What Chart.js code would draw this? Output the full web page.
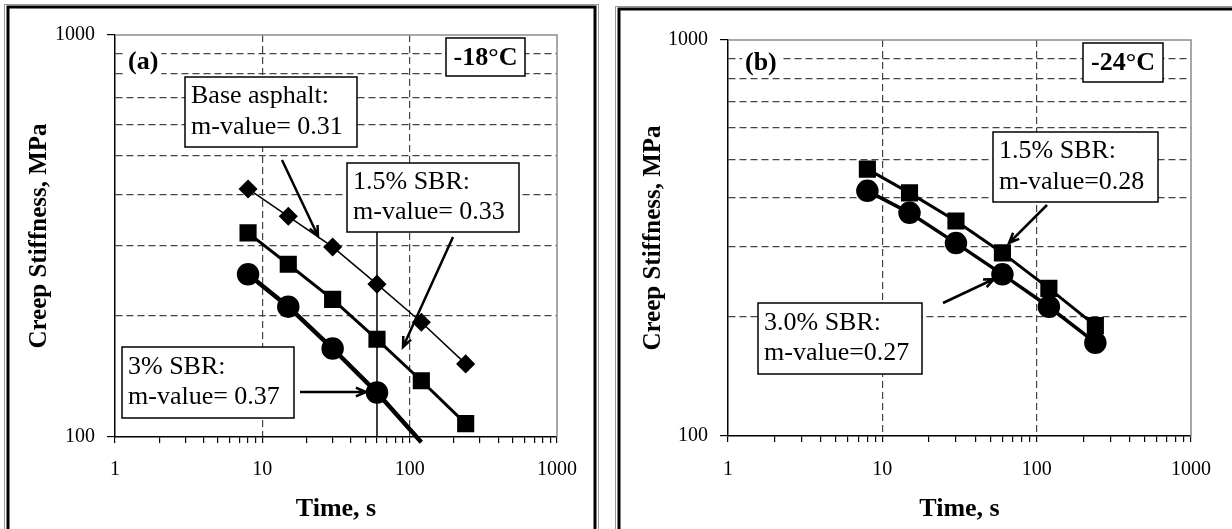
<!DOCTYPE html>
<html>
<head>
<meta charset="utf-8">
<title>Creep stiffness vs loading time</title>
<script src="https://cdn.jsdelivr.net/npm/chart.js@4.4.1/dist/chart.umd.min.js"></script>
<style>
  body { margin: 0; background: #fff; }
  #wrap { position: relative; width: 1232px; height: 529px; }
  .panel { position: absolute; top: 0; height: 529px; }
  #panelA { left: 0; width: 612px; }
  #panelB { left: 612px; width: 620px; }
</style>
</head>
<body>
<div id="wrap">
  <div class="panel" id="panelA"><canvas id="chartA"></canvas></div>
  <div class="panel" id="panelB"><canvas id="chartB"></canvas></div>
</div>
<script>
// loading times, s
const times = [8, 15, 30, 60, 120, 240];

// (a) -18°C, creep stiffness in MPa
const baseAsphaltA = [414, 354, 297, 240, 193, 152];
const sbr15A = [322, 269, 220, 175, 138, 108];
const sbr3A = [254, 211, 166, 129, 97]; // last point is just under the axis

// (b) -24°C
const sbr15B = [472, 411, 349, 290, 236, 190];
const sbr30B = [416, 366, 307, 256, 212, 172];

const xTickLabels = [1, 10, 100, 1000];
const yTickLabels = [100, 1000];

// tick marks: 1..9 in every decade
const xTicks = [];
[1, 10, 100].forEach(d => { for (let k = 1; k < 10; k++) xTicks.push(k * d); });
xTicks.push(1000);
const yTicks = [100, 200, 300, 400, 500, 600, 700, 800, 900, 1000];

const SERIF = "'Liberation Serif', 'Times New Roman', serif";
const H = 529;

function pts(values) {
    return values.map((v, i) => ({ x: times[i], y: v }));
}

function arrow(ctx, x1, y1, x2, y2) {
    const ang = Math.atan2(y2 - y1, x2 - x1);
    const head = 11;
    ctx.beginPath();
    ctx.moveTo(x1, y1);
    ctx.lineTo(x2, y2);
    ctx.moveTo(x2 - head * Math.cos(ang - 0.4), y2 - head * Math.sin(ang - 0.4));
    ctx.lineTo(x2, y2);
    ctx.lineTo(x2 - head * Math.cos(ang + 0.4), y2 - head * Math.sin(ang + 0.4));
    ctx.stroke();
}

// frame, text boxes and arrows drawn on top of the chart
function notesPlugin(notes) {
    return {
        id: 'notes',
        beforeDraw(chart) {
            const ctx = chart.ctx;
            const f = notes.frame;
            ctx.save();
            ctx.strokeStyle = '#999';
            ctx.lineWidth = 1;
            ctx.strokeRect(f.left - 3.5, f.top - 2.5, f.right - f.left + 7, 600);
            ctx.strokeStyle = '#000';
            ctx.lineWidth = 3;
            ctx.strokeRect(f.left, f.top, f.right - f.left, 600);
            ctx.restore();
        },
        afterDatasetsDraw(chart) {
            const { ctx, chartArea: a } = chart;
            ctx.save();

            // top and right edge of the plot area
            ctx.strokeStyle = '#8c8c8c';
            ctx.lineWidth = 1.5;
            ctx.beginPath();
            ctx.moveTo(a.left, a.top);
            ctx.lineTo(a.right, a.top);
            ctx.lineTo(a.right, a.bottom);
            ctx.stroke();

            ctx.strokeStyle = '#000';
            ctx.fillStyle = '#000';

            if (notes.guide) {
                const gx = chart.scales.x.getPixelForValue(notes.guide.time);
                ctx.lineWidth = 1.5;
                ctx.beginPath();
                ctx.moveTo(gx, notes.guide.top);
                ctx.lineTo(gx, a.bottom);
                ctx.stroke();
            }

            ctx.lineWidth = 2.5;
            notes.arrows.forEach(p => arrow(ctx, p[0], p[1], p[2], p[3]));

            ctx.textBaseline = 'middle';

            // panel tag, white behind it
            ctx.font = 'bold 26px ' + SERIF;
            const tw = ctx.measureText(notes.tag.text).width;
            ctx.fillStyle = '#fff';
            ctx.fillRect(notes.tag.x - 3, notes.tag.y - 14, tw + 6, 28);
            ctx.fillStyle = '#000';
            ctx.textAlign = 'left';
            ctx.fillText(notes.tag.text, notes.tag.x, notes.tag.y);

            // temperature box
            const t = notes.temp;
            ctx.fillStyle = '#fff';
            ctx.fillRect(t.x, t.y, t.w, t.h);
            ctx.lineWidth = 1.5;
            ctx.strokeRect(t.x, t.y, t.w, t.h);
            ctx.fillStyle = '#000';
            ctx.textAlign = 'center';
            ctx.fillText(t.text, t.x + t.w / 2, t.y + t.h / 2 + 1);

            // m-value boxes
            ctx.font = '26px ' + SERIF;
            ctx.textAlign = 'left';
            notes.boxes.forEach(b => {
                ctx.fillStyle = '#fff';
                ctx.fillRect(b.x, b.y, b.w, b.h);
                ctx.strokeRect(b.x, b.y, b.w, b.h);
                ctx.fillStyle = '#000';
                ctx.fillText(b.lines[0], b.x + 6, b.y + b.h * 0.28);
                ctx.fillText(b.lines[1], b.x + 6, b.y + b.h * 0.71);
            });

            ctx.restore();
        }
    };
}

function isDecade(v) {
    return Math.abs(Math.log10(v) - Math.round(Math.log10(v))) < 1e-6;
}

function makeChart(canvasId, datasets, area, notes) {
    const canvas = document.getElementById(canvasId);
    const W = canvas.parentNode.clientWidth;
    return new Chart(canvas, {
        type: 'line',
        data: { datasets: datasets },
        options: {
            responsive: true,
            maintainAspectRatio: false,
            animation: false,
            layout: { padding: { left: 0, top: area.top, right: W - area.right, bottom: 0 } },
            plugins: { legend: { display: false }, tooltip: { enabled: false } },
            elements: { line: { tension: 0, borderColor: '#000' } },
            scales: {
                x: {
                    type: 'logarithmic',
                    min: 1,
                    max: 1000,
                    afterBuildTicks: s => { s.ticks = xTicks.map(v => ({ value: v })); },
                    afterFit: s => { s.height = H - area.bottom; },
                    border: { color: '#000', width: 1.5, dash: [7, 4] },
                    grid: {
                        color: c => (c.tick && (c.tick.value === 10 || c.tick.value === 100)) ? '#444' : 'rgba(0,0,0,0)',
                        lineWidth: 1.2,
                        tickColor: '#000',
                        tickLength: 6,
                        tickWidth: 1.2
                    },
                    ticks: {
                        autoSkip: false,
                        maxRotation: 0,
                        padding: area.bottom === 437 ? 15 : 16,
                        color: '#000',
                        font: { family: SERIF, size: 20 },
                        callback: v => xTickLabels.includes(v) ? String(v) : ''
                    },
                    title: {
                        display: true,
                        text: 'Time, s',
                        color: '#000',
                        font: { family: SERIF, size: 26, weight: 'bold', lineHeight: 1 },
                        padding: { top: 0, bottom: 7 }
                    }
                },
                y: {
                    type: 'logarithmic',
                    min: 100,
                    max: 1000,
                    afterBuildTicks: s => { s.ticks = yTicks.map(v => ({ value: v })); },
                    afterFit: s => { s.width = area.left; },
                    border: { color: '#000', width: 1.5, dash: [7, 4] },
                    grid: {
                        color: c => (c.tick && !isDecade(c.tick.value)) ? '#444' : 'rgba(0,0,0,0)',
                        lineWidth: 1.2,
                        tickColor: c => (c.tick && isDecade(c.tick.value)) ? '#000' : 'rgba(0,0,0,0)',
                        tickLength: 8,
                        tickWidth: 1.2
                    },
                    ticks: {
                        autoSkip: false,
                        padding: 12,
                        color: '#000',
                        font: { family: SERIF, size: 20 },
                        callback: v => yTickLabels.includes(v) ? String(v) : ''
                    },
                    title: {
                        display: true,
                        text: 'Creep Stiffness, MPa',
                        color: '#000',
                        font: { family: SERIF, size: 25, weight: 'bold', lineHeight: 1 },
                        padding: { top: area.titleX - 12.5, bottom: 0 }
                    }
                }
            }
        },
        plugins: [notesPlugin(notes)]
    });
}

// (a) -18°C
makeChart('chartA', [
    {
        label: 'Base asphalt',
        data: pts(baseAsphaltA),
        borderColor: '#000',
        borderWidth: 1.5,
        pointStyle: 'rectRot',
        pointRadius: 8.5,
        pointBackgroundColor: '#000',
        pointBorderColor: '#000'
    },
    {
        label: '1.5% SBR',
        data: pts(sbr15A),
        borderColor: '#000',
        borderWidth: 3,
        pointStyle: 'rect',
        pointRadius: 10,
        pointBackgroundColor: '#000',
        pointBorderColor: '#000'
    },
    {
        label: '3% SBR',
        data: pts(sbr3A),
        borderColor: '#000',
        borderWidth: 4.5,
        pointStyle: 'circle',
        pointRadius: c => (c.raw && c.raw.y < 100) ? 0 : 9,
        pointBackgroundColor: '#000',
        pointBorderColor: '#000',
        clip: { left: 0, top: 0, right: 0, bottom: 7 }
    }
], { left: 115, top: 35, right: 557, bottom: 437, titleX: 40 }, {
    frame: { left: 8, top: 7, right: 595 },
    tag: { text: '(a)', x: 128, y: 62 },
    temp: { text: '-18°C', x: 446, y: 38, w: 79, h: 38 },
    boxes: [
        { x: 185, y: 77, w: 172, h: 70, lines: ['Base asphalt:', 'm-value= 0.31'] },
        { x: 347, y: 163, w: 172, h: 69, lines: ['1.5% SBR:', 'm-value= 0.33'] },
        { x: 122, y: 347, w: 172, h: 71, lines: ['3% SBR:', 'm-value= 0.37'] }
    ],
    arrows: [[282, 160, 318, 236], [453, 237, 403, 347], [300, 392, 366, 392]],
    guide: { time: 60, top: 232 }
});

// (b) -24°C
makeChart('chartB', [
    {
        label: '1.5% SBR',
        data: pts(sbr15B),
        borderColor: '#000',
        borderWidth: 3,
        pointStyle: 'rect',
        pointRadius: 10,
        pointBackgroundColor: '#000',
        pointBorderColor: '#000'
    },
    {
        label: '3.0% SBR',
        data: pts(sbr30B),
        borderColor: '#000',
        borderWidth: 3.5,
        pointStyle: 'circle',
        pointRadius: 9.5,
        pointBackgroundColor: '#000',
        pointBorderColor: '#000'
    }
], { left: 116, top: 40, right: 579, bottom: 436, titleX: 42 }, {
    frame: { left: 7, top: 9, right: 640 },
    tag: { text: '(b)', x: 133, y: 63 },
    temp: { text: '-24°C', x: 471, y: 43, w: 80, h: 39 },
    boxes: [
        { x: 381, y: 132, w: 165, h: 70, lines: ['1.5% SBR:', 'm-value=0.28'] },
        { x: 146, y: 303, w: 164, h: 71, lines: ['3.0% SBR:', 'm-value=0.27'] }
    ],
    arrows: [[435, 205, 397, 243], [331, 303, 382, 279]]
});
</script>
</body>
</html>
